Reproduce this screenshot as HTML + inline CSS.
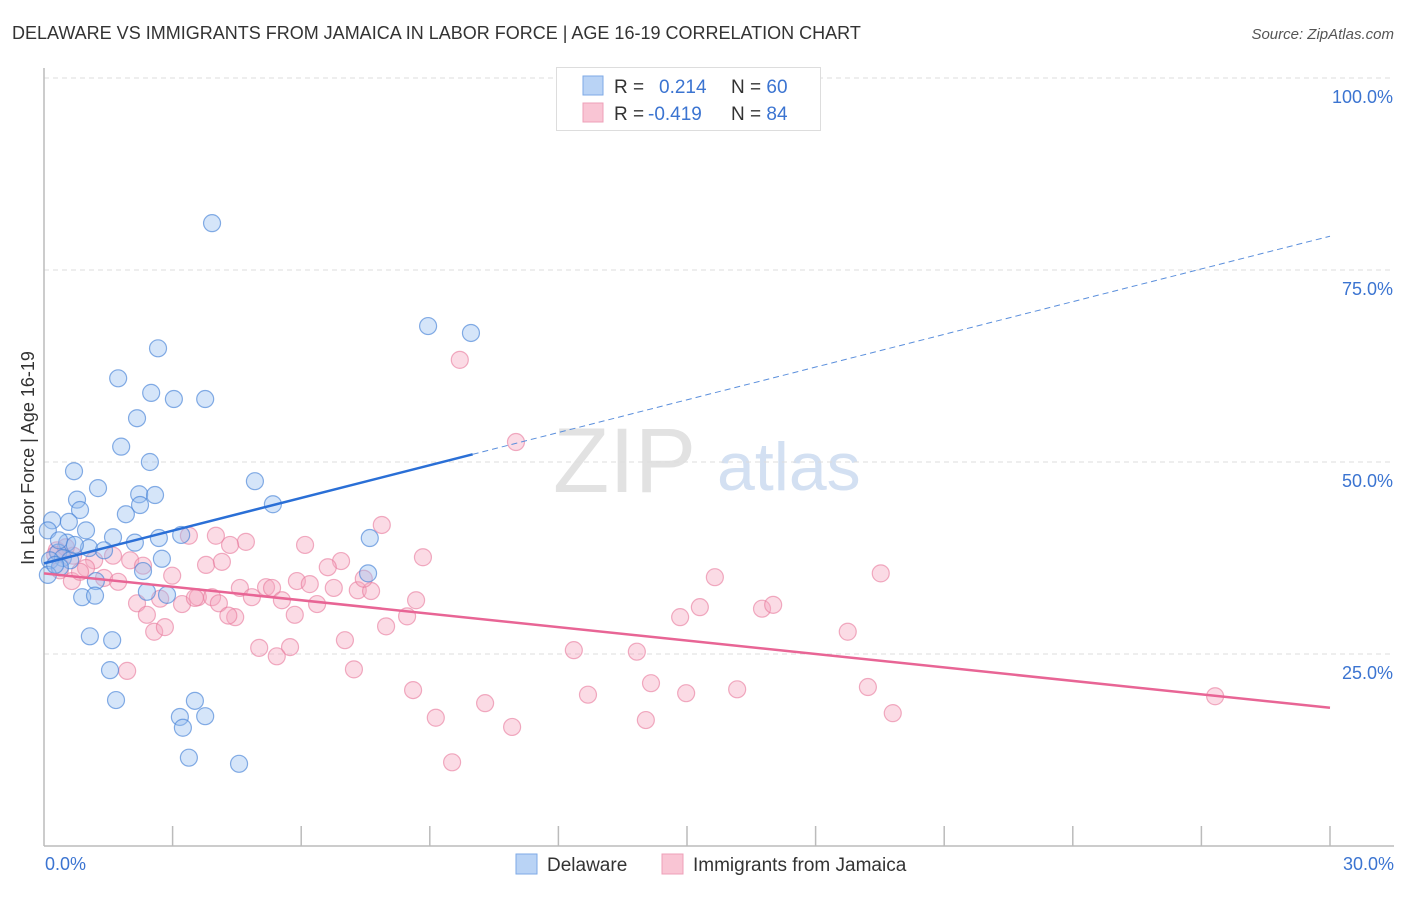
<!DOCTYPE html>
<html><head><meta charset="utf-8"><style>
body{margin:0;background:#fff;font-family:"Liberation Sans",sans-serif;}
svg text{font-family:"Liberation Sans",sans-serif;}
</style></head><body>
<svg id="chart" width="1406" height="892" viewBox="0 0 1406 892">
<text x="12" y="39" font-size="18" fill="#333">DELAWARE VS IMMIGRANTS FROM JAMAICA IN LABOR FORCE | AGE 16-19 CORRELATION CHART</text>
<text x="1394" y="39" font-size="15" fill="#555" font-style="italic" text-anchor="end">Source: ZipAtlas.com</text>
<g>
<text x="553" y="492" font-size="92" fill="#e2e2e2" font-family="Liberation Serif">ZIP</text>
<text x="717" y="490" font-size="68" fill="#d3e0f2">atlas</text>
</g>
<g id="grid"></g>
<g id="axes"></g>
<g id="points"></g>
<g id="trends"></g>
<text x="34" y="458" font-size="18" fill="#333" text-anchor="middle" transform="rotate(-90 34 458)">In Labor Force | Age 16-19</text>
<g>
<rect x="556.5" y="67.5" width="264" height="63" fill="#fff" stroke="#ddd"/>
<rect x="583" y="76" width="20" height="19" fill="#b9d3f5" stroke="#7ea9e6"/>
<rect x="583" y="103" width="20" height="19" fill="#f9c5d4" stroke="#eea0b8"/>
<text x="614" y="93" font-size="19" fill="#333">R = <tspan x="659" fill="#3b74d1">0.214</tspan><tspan x="731" fill="#333">N = </tspan><tspan fill="#3b74d1">60</tspan></text>
<text x="614" y="120" font-size="19" fill="#333">R = <tspan x="648" fill="#3b74d1">-0.419</tspan><tspan x="731" fill="#333">N = </tspan><tspan fill="#3b74d1">84</tspan></text>
</g>
<g>
<rect x="516" y="854" width="21" height="20" fill="#b9d3f5" stroke="#7ea9e6"/>
<text x="547" y="871" font-size="19" fill="#333">Delaware</text>
<rect x="662" y="854" width="21" height="20" fill="#f9c5d4" stroke="#eea0b8"/>
<text x="693" y="871" font-size="19" fill="#333">Immigrants from Jamaica</text>
</g>
</svg>
<script>
const yTicks=[25,50,75,100];
const yTickLabels=["25.0%","50.0%","75.0%","100.0%"];
const xTicks=[0,3,6,9,12,15,18,21,24,27,30];
const delX=[3.92,8.96,9.96,2.66,1.73,2.50,3.03,3.76,2.17,1.80,2.47,0.70,1.26,0.77,2.22,2.59,2.24,4.92,5.34,0.84,1.91,0.58,0.19,0.09,0.98,3.20,2.68,1.61,2.12,0.54,1.05,1.40,0.33,0.44,0.14,0.61,2.75,2.31,0.37,7.56,0.09,1.21,2.40,2.87,0.89,1.19,7.60,1.07,1.59,1.54,1.68,3.17,3.76,3.52,3.24,3.38,4.55,0.35,0.26,0.72];
const delY=[81.1,67.7,66.8,64.8,60.9,59.0,58.2,58.2,55.7,52.0,50.0,48.8,46.6,45.1,45.8,45.7,44.4,47.5,44.5,43.75,43.2,42.2,42.4,41.1,41.1,40.5,40.1,40.2,39.5,39.5,38.8,38.5,38.2,37.5,37.2,37.2,37.4,35.8,36.3,35.5,35.3,34.5,33.1,32.7,32.4,32.6,40.1,27.3,26.8,22.9,19.0,16.8,16.9,18.9,15.4,11.5,10.7,39.8,36.6,39.2];
const jamX=[9.70,11.01,7.88,4.71,4.34,6.09,4.01,3.38,0.30,1.61,2.01,0.68,1.17,6.93,8.84,6.62,2.99,3.78,4.15,2.31,0.37,0.98,1.40,0.65,5.90,6.20,4.57,5.18,5.32,7.32,7.63,6.76,2.17,2.71,3.22,3.59,3.92,4.08,4.85,5.55,6.37,8.68,3.52,2.40,5.85,7.46,8.47,4.46,2.57,2.82,7.98,7.02,15.65,19.52,14.84,15.30,16.75,17.01,18.75,12.36,13.83,5.02,5.74,5.43,7.23,1.94,8.61,12.69,14.16,14.98,16.17,19.22,10.29,9.14,10.92,14.04,19.80,9.52,27.32,0.26,0.51,0.84,1.73,4.30];
const jamY=[63.3,52.6,41.8,39.6,39.2,39.2,40.4,40.4,38.5,37.8,37.2,37.8,37.2,37.1,37.6,36.3,35.2,36.6,37.0,36.5,35.9,36.2,34.9,34.5,34.5,34.1,33.6,33.7,33.6,33.3,33.2,33.6,31.6,32.2,31.5,32.4,32.4,31.6,32.4,32.0,31.5,32.0,32.3,30.1,30.1,34.8,29.9,29.8,27.9,28.5,28.6,26.8,35.0,35.5,29.8,31.1,30.9,31.4,27.9,25.5,25.3,25.8,25.9,24.7,23.0,22.8,20.3,19.7,21.2,19.9,20.4,20.7,18.6,16.7,15.5,16.4,17.3,10.9,19.5,37.9,38.9,35.7,34.4,30.0];
const delTrend=[36.8,79.4];
const jamTrend=[35.5,18.0];
const delSolidEnd=10.0;

const NS="http://www.w3.org/2000/svg";
const X0=44,X1=1330,Y0=846,Y100=78;
function sx(v){return X0+(v/30)*(X1-X0);}
function sy(v){return Y0-(v/100)*(Y0-Y100);}
function mk(tag,attrs,parent){const e=document.createElementNS(NS,tag);for(const k in attrs)e.setAttribute(k,attrs[k]);document.getElementById(parent).appendChild(e);return e;}

yTicks.forEach((t,i)=>{
 const l=mk('line',{x1:X0,x2:1394,y1:sy(t),y2:sy(t),stroke:'#ddd','stroke-dasharray':'5,4'},'grid');
 
 
 const tx=mk('text',{x:1393,y:sy(t)+25,'font-size':18,fill:'#3b74d1','text-anchor':'end'},'grid');
 tx.textContent=yTickLabels[i];
 
 
});
let ax=mk('line',{x1:X0,x2:X0,y1:68,y2:Y0,stroke:'#bbb','stroke-width':1.5},'axes');


ax=mk('line',{x1:X0,x2:1394,y1:Y0,y2:Y0,stroke:'#bbb','stroke-width':1.5},'axes');


xTicks.forEach(t=>{
 if(t===0)return;
 const l=mk('line',{x1:sx(t),x2:sx(t),y1:826,y2:Y0,stroke:'#bbb','stroke-width':1.5},'axes');
 
 
});
let xl=mk('text',{x:45,y:870,'font-size':18,fill:'#3b74d1'},'axes');xl.textContent=xTicks[0].toFixed(1)+'%';


xl=mk('text',{x:1394,y:870,'font-size':18,fill:'#3b74d1','text-anchor':'end'},'axes');xl.textContent=xTicks[xTicks.length-1].toFixed(1)+'%';



jamX.forEach((v,i)=>{
 const c=mk('circle',{cx:sx(v),cy:sy(jamY[i]),r:8.5,fill:'rgba(246,166,190,0.4)',stroke:'rgba(232,120,155,0.6)','stroke-width':1.2},'points');
 
 
});
delX.forEach((v,i)=>{
 const c=mk('circle',{cx:sx(v),cy:sy(delY[i]),r:8.5,fill:'rgba(150,190,240,0.4)',stroke:'rgba(70,130,215,0.65)','stroke-width':1.2},'points');
 
 
});
function dy(x){return delTrend[0]+(delTrend[1]-delTrend[0])*x/30;}
let t=mk('line',{x1:sx(0),y1:sy(dy(0)),x2:sx(delSolidEnd),y2:sy(dy(delSolidEnd)),stroke:'#2a6fd6','stroke-width':2.5},'trends');


t=mk('line',{x1:sx(delSolidEnd),y1:sy(dy(delSolidEnd)),x2:sx(30),y2:sy(dy(30)),stroke:'#5b8fdc','stroke-width':1,'stroke-dasharray':'6,4'},'trends');


t=mk('line',{x1:sx(0),y1:sy(jamTrend[0]),x2:sx(30),y2:sy(jamTrend[1]),stroke:'#e86595','stroke-width':2.5},'trends');


</script>
</body></html>
